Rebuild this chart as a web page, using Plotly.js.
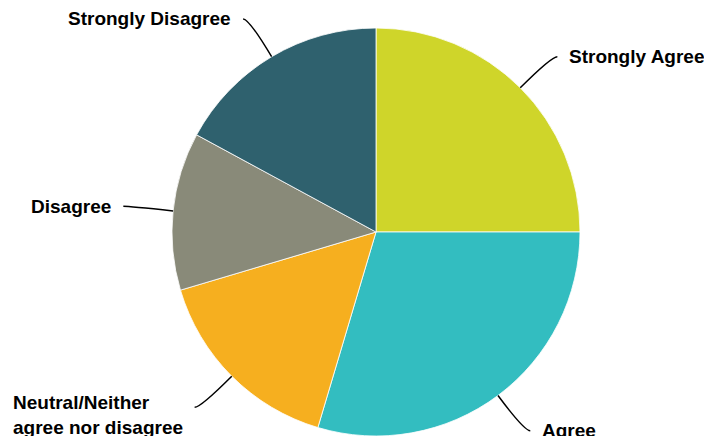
<!DOCTYPE html>
<html>
<head>
<meta charset="utf-8">
<script src="https://cdn.plot.ly/plotly-3.0.1.min.js"></script>
<style>
  html, body { margin: 0; padding: 0; background: #ffffff; }
  #chart { width: 704px; height: 436px; }
</style>
</head>
<body>
<div id="chart"></div>
<script>
// ---- Data ----
const categories = ['Strongly Agree', 'Agree', 'Neutral/Neither<br>agree nor disagree', 'Disagree', 'Strongly Disagree'];
const shares = [25.0, 29.6, 15.8, 12.5, 17.1];
const sliceColors = ['#CFD52A', '#33BDC0', '#F6AF1F', '#898A79', '#2F616E'];

// ---- Geometry of the figure ----
const W = 704, H = 436;
const cx = 376, cy = 232, R = 204;     // pie centre and radius in pixels
const elbow = 44, tail = 6, gap = 10;  // leader-line shape
const fontSize = 19;

const toPX = x => x / W;
const toPY = y => 1 - y / H;

const total = shares.reduce((a, b) => a + b, 0);
const shapes = [];
const annotations = [];
let cum = 0;
shares.forEach((v, i) => {
  const a = (cum + v / 2) / total * 2 * Math.PI; // clockwise from 12 o'clock
  cum += v;
  const s = Math.sin(a), c = Math.cos(a);
  const side = s >= 0 ? 1 : -1;
  const x0 = cx + R * s, y0 = cy - R * c;
  const x1 = cx + (R + elbow) * s, y1 = cy - (R + elbow) * c;
  const x2 = x1 + side * tail, y2 = y1;
  shapes.push({
    type: 'path', xref: 'paper', yref: 'paper',
    path: `M ${toPX(x0)},${toPY(y0)} Q ${toPX(x1)},${toPY(y1)} ${toPX(x2)},${toPY(y2)}`,
    line: { color: '#000000', width: 1.5 }
  });
  const multi = categories[i].indexOf('<br>') >= 0;
  annotations.push({
    xref: 'paper', yref: 'paper',
    x: toPX(x2 + side * gap), y: toPY(y2),
    xanchor: side > 0 ? 'left' : 'right',
    yanchor: 'middle',
    yshift: multi ? -8 : 0,
    align: 'left',
    showarrow: false,
    text: '<b>' + categories[i] + '</b>',
    font: { family: 'Liberation Sans, Arial, sans-serif', size: fontSize, color: '#000000' }
  });
});

const trace = {
  type: 'pie',
  labels: categories,
  values: shares,
  sort: false,
  direction: 'clockwise',
  rotation: 0,
  textinfo: 'none',
  hoverinfo: 'label+percent',
  marker: { colors: sliceColors, line: { color: '#ffffff', width: 0.8 } },
  domain: { x: [(cx - R) / W, (cx + R) / W], y: [(H - cy - R) / H, (H - cy + R) / H] }
};

const layout = {
  width: W, height: H,
  margin: { l: 0, r: 0, t: 0, b: 0 },
  paper_bgcolor: '#ffffff',
  showlegend: false,
  shapes: shapes,
  annotations: annotations
};

Plotly.newPlot('chart', [trace], layout, { displayModeBar: false, staticPlot: true });
</script>
</body>
</html>
